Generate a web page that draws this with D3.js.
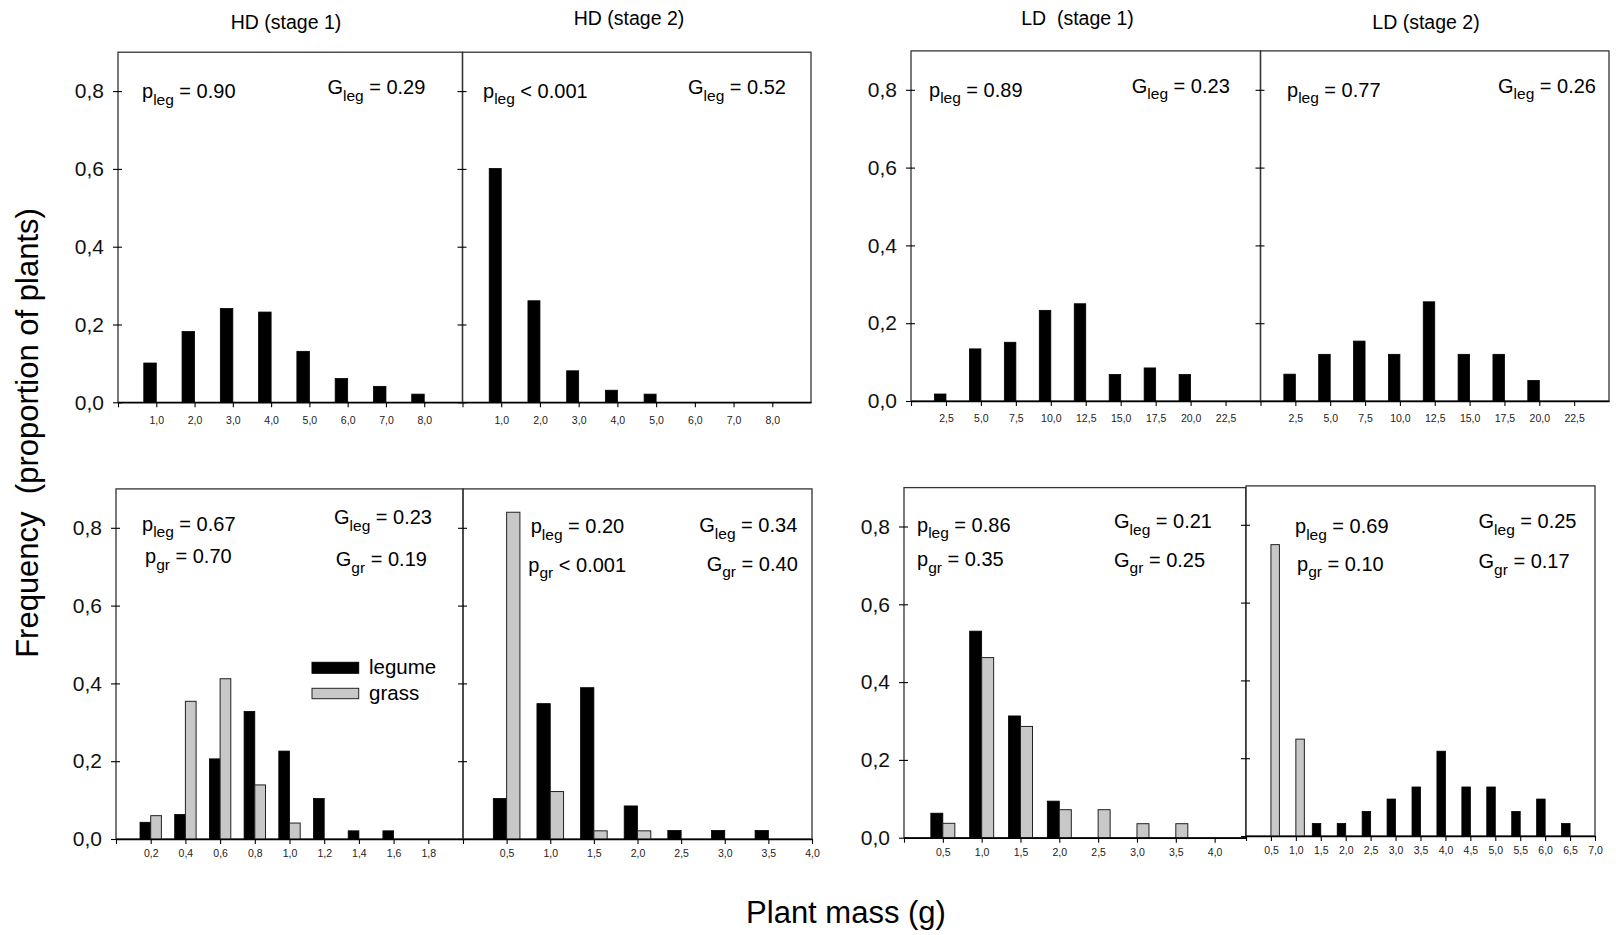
<!DOCTYPE html>
<html>
<head>
<meta charset="utf-8">
<script src="https://cdn.jsdelivr.net/npm/d3@7/dist/d3.min.js"></script>
<style>
  html, body { margin: 0; padding: 0; background: #fff; }
  svg { display: block; font-family: "Liberation Sans", Arial, sans-serif; }
</style>
</head>
<body>
<svg id="chart" width="1616" height="935"></svg>
<script>
// ---------------- DATA ----------------
const panelTitles = ["HD (stage 1)", "HD (stage 2)", "LD  (stage 1)", "LD (stage 2)"];
const yAxisTitle = "Frequency  (proportion of plants)";
const xAxisTitle = "Plant mass (g)";
const legendLabels = ["legume", "grass"];
const yTickValues = [0, 0.2, 0.4, 0.6, 0.8];

// x tick values
const xTicksHDTop = [1, 2, 3, 4, 5, 6, 7, 8];
const xTicksLDTop = [2.5, 5, 7.5, 10, 12.5, 15, 17.5, 20, 22.5];
const xTicksHD1Bottom = [0.2, 0.4, 0.6, 0.8, 1.0, 1.2, 1.4, 1.6, 1.8];
const xTicksHD2Bottom = [0.5, 1.0, 1.5, 2.0, 2.5, 3.0, 3.5, 4.0];
const xTicksLD1Bottom = [0.5, 1.0, 1.5, 2.0, 2.5, 3.0, 3.5, 4.0];
const xTicksLD2Bottom = [0.5, 1.0, 1.5, 2.0, 2.5, 3.0, 3.5, 4.0, 4.5, 5.0, 5.5, 6.0, 6.5, 7.0];

// Top row: legume only
const hd1TopMass   = [1, 2, 3, 4, 5, 6, 7, 8];
const hd1TopLegume = [0.101, 0.182, 0.241, 0.232, 0.131, 0.061, 0.041, 0.021];
const hd2TopMass   = [1, 2, 3, 4, 5];
const hd2TopLegume = [0.601, 0.261, 0.081, 0.031, 0.021];
const ld1TopMass   = [2.5, 5, 7.5, 10, 12.5, 15, 17.5, 20];
const ld1TopLegume = [0.018, 0.134, 0.151, 0.233, 0.250, 0.068, 0.085, 0.068];
const ld2TopMass   = [2.5, 5, 7.5, 10, 12.5, 15, 17.5, 20];
const ld2TopLegume = [0.069, 0.120, 0.154, 0.120, 0.255, 0.120, 0.120, 0.053];

// Bottom row: legume + grass (null = no bar)
const hd1BotMass   = [0.2, 0.4, 0.6, 0.8, 1.0, 1.2, 1.4, 1.6];
const hd1BotLegume = [0.043, 0.063, 0.206, 0.328, 0.226, 0.104, 0.021, 0.021];
const hd1BotGrass  = [0.060, 0.354, 0.412, 0.139, 0.041, null, null, null];
const hd2BotMass   = [0.5, 1.0, 1.5, 2.0, 2.5, 3.0, 3.5];
const hd2BotLegume = [0.104, 0.348, 0.389, 0.085, 0.022, 0.022, 0.022];
const hd2BotGrass  = [0.840, 0.122, 0.021, 0.021, null, null, null];
const ld1BotMass   = [0.5, 1.0, 1.5, 2.0, 2.5, 3.0, 3.5];
const ld1BotLegume = [0.063, 0.531, 0.313, 0.094, null, null, null];
const ld1BotGrass  = [0.037, 0.463, 0.286, 0.072, 0.072, 0.036, 0.036];
const ld2BotMass   = [0.5, 1.0, 1.5, 2.0, 2.5, 3.0, 3.5, 4.0, 4.5, 5.0, 5.5, 6.0, 6.5];
const ld2BotLegume = [null, null, 0.032, 0.032, 0.063, 0.095, 0.126, 0.218, 0.126, 0.126, 0.063, 0.095, 0.032];
const ld2BotGrass  = [0.749, 0.249, null, null, null, null, null, null, null, null, null, null, null];

// Statistics annotations: [symbol, subscript, rest]
const statsHD1Top = [["p", "leg", " = 0.90"], ["G", "leg", " = 0.29"]];
const statsHD2Top = [["p", "leg", " < 0.001"], ["G", "leg", " = 0.52"]];
const statsLD1Top = [["p", "leg", " = 0.89"], ["G", "leg", " = 0.23"]];
const statsLD2Top = [["p", "leg", " = 0.77"], ["G", "leg", " = 0.26"]];
const statsHD1Bot = [["p", "leg", " = 0.67"], ["p", "gr", " = 0.70"], ["G", "leg", " = 0.23"], ["G", "gr", " = 0.19"]];
const statsHD2Bot = [["p", "leg", " = 0.20"], ["p", "gr", " < 0.001"], ["G", "leg", " = 0.34"], ["G", "gr", " = 0.40"]];
const statsLD1Bot = [["p", "leg", " = 0.86"], ["p", "gr", " = 0.35"], ["G", "leg", " = 0.21"], ["G", "gr", " = 0.25"]];
const statsLD2Bot = [["p", "leg", " = 0.69"], ["p", "gr", " = 0.10"], ["G", "leg", " = 0.25"], ["G", "gr", " = 0.17"]];

// ---------------- LAYOUT / STYLE ----------------
const panels = [
  { x0: 118, x1: 462.5, y0: 402.3, xMax: 9, ticks: xTicksHDTop, mass: hd1TopMass, leg: hd1TopLegume, gr: null,
    bar: 12.5, yLabels: true, labPad: 9, stats: statsHD1Top, statPos: [[142, 98.3], [327.4, 94.3]] },
  { x0: 462.5, x1: 811, y0: 402.3, xMax: 9, ticks: xTicksHDTop, mass: hd2TopMass, leg: hd2TopLegume, gr: null,
    bar: 12, yLabels: false, labPad: 9, stats: statsHD2Top, statPos: [[483, 97.7], [688, 94.3]] },
  { x0: 911, x1: 1260.5, y0: 401, xMax: 25, ticks: xTicksLDTop, mass: ld1TopMass, leg: ld1TopLegume, gr: null,
    bar: 11.5, yLabels: true, labPad: 9, stats: statsLD1Top, statPos: [[929, 96.7], [1131.8, 92.7]] },
  { x0: 1260.5, x1: 1609, y0: 401, xMax: 25, ticks: xTicksLDTop, mass: ld2TopMass, leg: ld2TopLegume, gr: null,
    bar: 11.5, yLabels: false, labPad: 9, stats: statsLD2Top, statPos: [[1287, 96.7], [1498, 92.7]] },
  { x0: 116, x1: 463, y0: 839, xMax: 2, ticks: xTicksHD1Bottom, mass: hd1BotMass, leg: hd1BotLegume, gr: hd1BotGrass,
    bar: 10.7, yLabels: true, labPad: 6, stats: statsHD1Bot,
    statPos: [[142, 530.7], [145, 563.3], [334, 524.3], [335.8, 566]] },
  { x0: 463, x1: 812, y0: 839, xMax: 4, ticks: xTicksHD2Bottom, mass: hd2BotMass, leg: hd2BotLegume, gr: hd2BotGrass,
    bar: 13.3, yLabels: false, labPad: 6, stats: statsHD2Bot,
    statPos: [[530.7, 533.3], [528.3, 571.7], [699.3, 532.3], [706.7, 570.7]] },
  { x0: 904, x1: 1245.7, y0: 837.7, xMax: 4.4, ticks: xTicksLD1Bottom, mass: ld1BotMass, leg: ld1BotLegume, gr: ld1BotGrass,
    bar: 12, yLabels: true, labPad: 6, stats: statsLD1Bot,
    statPos: [[917, 531.7], [917, 566], [1114, 528.3], [1114, 566.7]] },
  { x0: 1246, x1: 1595, y0: 836, xMax: 7, ticks: xTicksLD2Bottom, mass: ld2BotMass, leg: ld2BotLegume, gr: ld2BotGrass,
    bar: 8.5, yLabels: false, labPad: 6, stats: statsLD2Bot,
    statPos: [[1295, 533.3], [1297, 570.5], [1478.5, 528.3], [1478.5, 568.3]] }
];
const titlePos = [[286, 28.5], [629, 25], [1077.5, 25], [1426, 29.3]];
const yPixelsPerUnit = 389;
const yMaxValue = 0.9;
const grassFill = "#c8c8c8";

// ---------------- DRAW ----------------
const svg = d3.select("#chart");
svg.append("rect").attr("width", 1616).attr("height", 935).attr("fill", "#fff");

const commaLocale = d3.formatLocale({ decimal: ",", thousands: ".", grouping: [3], currency: ["", ""] });
const fmt1 = commaLocale.format(".1f");

panels.forEach((p) => {
  const x = d3.scaleLinear().domain([0, p.xMax]).range([p.x0, p.x1]);
  const y = d3.scaleLinear().domain([0, yMaxValue]).range([p.y0, p.y0 - yMaxValue * yPixelsPerUnit]);
  const g = svg.append("g");

  // frame
  g.append("rect")
    .attr("x", p.x0).attr("y", y(yMaxValue))
    .attr("width", p.x1 - p.x0).attr("height", p.y0 - y(yMaxValue))
    .attr("fill", "none").attr("stroke", "#333").attr("stroke-width", 1.3);

  // bars: legume (black) ends at the tick, grass (grey) starts at the tick
  const legData = p.mass.map((m, i) => ({ m, v: p.leg[i] })).filter(d => d.v != null);
  g.selectAll("rect.leg").data(legData).enter().append("rect")
    .attr("class", "leg")
    .attr("x", d => x(d.m) - p.bar)
    .attr("y", d => y(d.v))
    .attr("width", p.bar)
    .attr("height", d => y(0) - y(d.v))
    .attr("fill", "#000").attr("stroke", "#000").attr("stroke-width", 0.8);

  if (p.gr) {
    const grData = p.mass.map((m, i) => ({ m, v: p.gr[i] })).filter(d => d.v != null);
    g.selectAll("rect.gr").data(grData).enter().append("rect")
      .attr("class", "gr")
      .attr("x", d => x(d.m))
      .attr("y", d => y(d.v))
      .attr("width", p.bar)
      .attr("height", d => y(0) - y(d.v))
      .attr("fill", grassFill).attr("stroke", "#222").attr("stroke-width", 1);
  }

  // x axis
  const xAxis = d3.axisBottom(x)
    .tickValues([0].concat(p.ticks))
    .tickSizeInner(5).tickSizeOuter(0).tickPadding(p.labPad)
    .tickFormat(d => d === 0 ? "" : fmt1(d));
  const xg = g.append("g").attr("transform", `translate(0,${p.y0})`).call(xAxis);
  xg.select(".domain").attr("stroke", "#000").attr("stroke-width", 1.6);
  xg.selectAll(".tick line").attr("stroke", "#000").attr("stroke-width", 1.1);
  xg.selectAll(".tick text").attr("font-size", 10.5).attr("fill", "#222")
    .attr("font-family", "'Liberation Sans', Arial, sans-serif");

  // y axis
  const yAxis = d3.axisLeft(y)
    .tickValues(yTickValues)
    .tickSizeInner(5).tickSizeOuter(0).tickPadding(9)
    .tickFormat(d => p.yLabels ? fmt1(d) : "");
  const yg = g.append("g").attr("transform", `translate(${p.x0},0)`).call(yAxis);
  yg.select(".domain").remove();
  yg.selectAll(".tick line").attr("x1", 4).attr("stroke", "#000").attr("stroke-width", 1.1);
  yg.selectAll(".tick text").attr("font-size", 21).attr("fill", "#111")
    .attr("font-family", "'Liberation Sans', Arial, sans-serif");

  // statistics
  p.stats.forEach((s, i) => {
    const t = g.append("text")
      .attr("x", p.statPos[i][0]).attr("y", p.statPos[i][1])
      .attr("font-size", 20).attr("fill", "#000");
    t.append("tspan").text(s[0]);
    t.append("tspan").attr("font-size", 15.5).attr("dy", 6.5).text(s[1]);
    t.append("tspan").attr("dy", -6.5).text(s[2]);
  });
});

// panel titles
panelTitles.forEach((t, i) => {
  svg.append("text")
    .attr("x", titlePos[i][0]).attr("y", titlePos[i][1])
    .attr("text-anchor", "middle").attr("font-size", 19.5).attr("fill", "#000")
    .attr("xml:space", "preserve").style("white-space", "pre")
    .text(t);
});

// legend (in HD stage 1 bottom panel)
const legendG = svg.append("g");
[["#000", "#000"], [grassFill, "#222"]].forEach((c, i) => {
  legendG.append("rect")
    .attr("x", 312).attr("y", i === 0 ? 662.3 : 688.3)
    .attr("width", 46.7).attr("height", i === 0 ? 11 : 10.4)
    .attr("fill", c[0]).attr("stroke", c[1]).attr("stroke-width", 1);
  legendG.append("text")
    .attr("x", 369).attr("y", i === 0 ? 674 : 700)
    .attr("font-size", 20.5).attr("fill", "#000")
    .text(legendLabels[i]);
});

// axis titles
svg.append("text")
  .attr("x", 846).attr("y", 923)
  .attr("text-anchor", "middle").attr("font-size", 31).attr("fill", "#000")
  .text(xAxisTitle);
svg.append("text")
  .attr("transform", "translate(38,433) rotate(-90)")
  .attr("text-anchor", "middle").attr("font-size", 31).attr("fill", "#000")
  .attr("xml:space", "preserve").style("white-space", "pre")
  .text(yAxisTitle);
</script>
</body>
</html>
